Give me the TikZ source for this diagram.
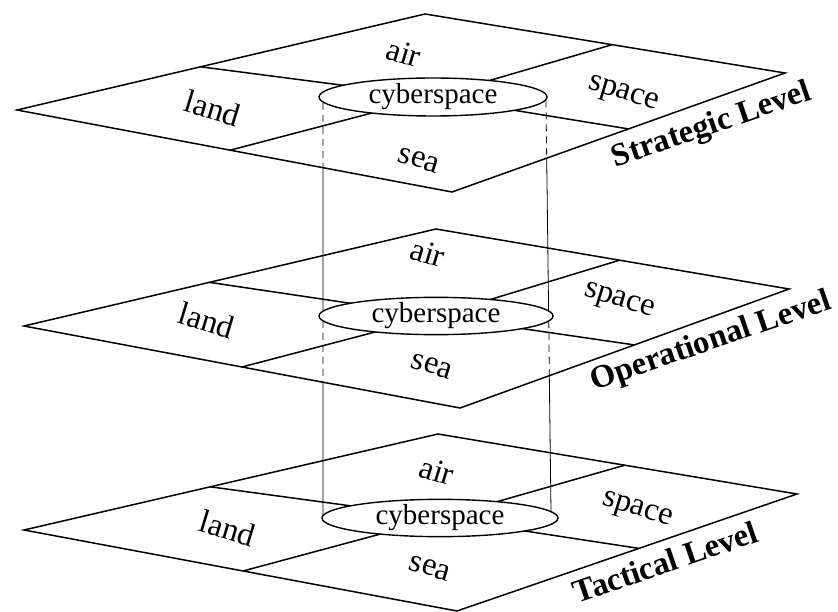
\documentclass[tikz,border=0pt]{standalone}
\usepackage{fontspec}
\setmainfont{Liberation Serif}
\usetikzlibrary{shapes.geometric,calc}
\tikzset{
  plane/.style={line width=1.5pt, line join=miter},
  divline/.style={line width=1.5pt},
  cyber/.style={ellipse, draw, line width=1.4pt, fill=white, inner sep=0pt,
    font=\fontsize{29}{30}\selectfont},
  region/.style={font=\fontsize{32.5}{33}\selectfont, rotate=-17, inner sep=0pt},
  level/.style={font=\fontsize{32.5}{34}\selectfont\bfseries, rotate=19, inner sep=0pt},
  hidden/.style={line width=0.8pt, dash pattern=on 7pt off 5pt},
  visible/.style={line width=0.8pt},
}
\begin{document}
\begin{tikzpicture}[x=1pt,y=-1pt]
\useasboundingbox (0,0) rectangle (838,612);

% ---------- Strategic plane ----------
\coordinate (T1) at (425,14);
\coordinate (T2) at (785,73);
\coordinate (T3) at (452,192);
\coordinate (T4) at (17,110);
\draw[plane] (T1)--(T2)--(T3)--(T4)--cycle;
\coordinate (Tc) at (433,97);
\coordinate (Tul) at ($(T4)!0.45!(T1)$);
\coordinate (Tur) at ($(T1)!0.52!(T2)$);
\coordinate (Tlr) at ($(T3)!0.53!(T2)$);
\coordinate (Tll) at ($(T4)!0.49!(T3)$);
\draw[divline] (Tul)--(Tc) (Tur)--(Tc) (Tlr)--(Tc) (Tll)--(Tc);
\node[cyber, minimum width=228pt, minimum height=38pt] (Te) at (Tc) {cyberspace};
\node[region] (Tair) at (404,53) {air};
\node[region] (Tland) at (213,108) {land};
\node[region] (Tspace) at (623,95) {space};
\node[region] (Tsea) at (419,160) {sea};
\node[level] (Tlab) at (712,126) {Strategic Level};

% ---------- Operational plane ----------
\coordinate (M1) at (436,229);
\coordinate (M2) at (789,289);
\coordinate (M3) at (460,408);
\coordinate (M4) at (24,326);
\draw[plane] (M1)--(M2)--(M3)--(M4)--cycle;
\coordinate (Mc) at (436,316);
\coordinate (Mul) at ($(M4)!0.45!(M1)$);
\coordinate (Mur) at ($(M1)!0.52!(M2)$);
\coordinate (Mlr) at ($(M3)!0.53!(M2)$);
\coordinate (Mll) at ($(M4)!0.50!(M3)$);
\draw[divline] (Mul)--(Mc) (Mur)--(Mc) (Mlr)--(Mc) (Mll)--(Mc);
\node[cyber, minimum width=234pt, minimum height=37pt] (Me) at (Mc) {cyberspace};
\node[region] (Mair) at (428,253) {air};
\node[region] (Mland) at (207,320) {land};
\node[region] (Mspace) at (619,302) {space};
\node[region] (Msea) at (432,366) {sea};
\node[level] (Mlab) at (711,342) {Operational Level};

% ---------- Tactical plane ----------
\coordinate (B1) at (438,434);
\coordinate (B2) at (797,494);
\coordinate (B3) at (457,611);
\coordinate (B4) at (24,530);
\draw[plane] (B1)--(B2)--(B3)--(B4)--cycle;
\coordinate (Bc) at (440,518);
\coordinate (Bul) at ($(B4)!0.45!(B1)$);
\coordinate (Bur) at ($(B1)!0.52!(B2)$);
\coordinate (Blr) at ($(B3)!0.535!(B2)$);
\coordinate (Bll) at ($(B4)!0.506!(B3)$);
\draw[divline] (Bul)--(Bc) (Bur)--(Bc) (Blr)--(Bc) (Bll)--(Bc);
\node[cyber, minimum width=236pt, minimum height=37pt] (Be) at (Bc) {cyberspace};
\node[region] (Bair) at (437,471) {air};
\node[region] (Bland) at (228,528) {land};
\node[region] (Bspace) at (637,511) {space};
\node[region] (Bsea) at (430,568) {sea};
\node[level] (Blab) at (665,562) {Tactical Level};

% ---------- cylinder through the levels ----------
\coordinate (L0) at (323,103);
\coordinate (L1) at (323,167.7);
\coordinate (L2) at (323,311.2);
\coordinate (L3) at (323,320.8);
\coordinate (L4) at (323,382.2);
\coordinate (L5) at (323,515.6);
\coordinate (R0) at (546,100.5);
\coordinate (R1) at (546.7,158.2);
\coordinate (R2) at (548.6,311);
\coordinate (R3) at (548.8,321);
\coordinate (R4) at (549.3,375.7);
\coordinate (R5) at (551,511.7);
\draw[hidden] (L0)--(L1) (L3)--(L4) (R0)--(R1) (R3)--(R4);
\draw[visible] (L1)--(L2) (L4)--(L5) (R1)--(R2) (R4)--(R5);
\end{tikzpicture}
\end{document}
